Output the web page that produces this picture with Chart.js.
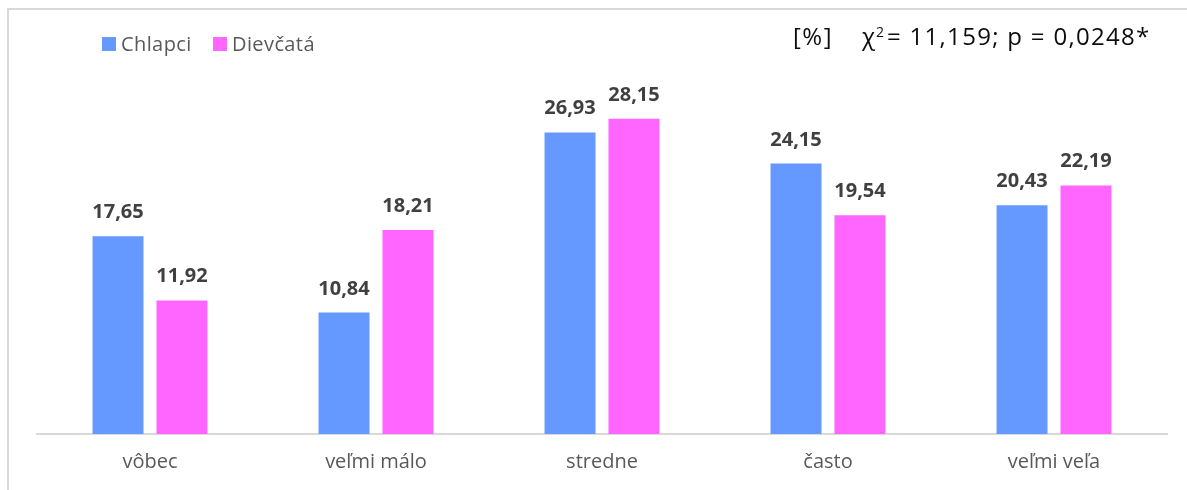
<!DOCTYPE html>
<html>
<head>
<meta charset="utf-8">
<script src="https://cdn.jsdelivr.net/npm/chart.js@4.4.1/dist/chart.umd.min.js"></script>
<style>
  html, body { margin: 0; padding: 0; background: #fff; }
  #wrap { position: relative; width: 1187px; height: 490px; }
</style>
</head>
<body>
<div id="wrap"><canvas id="chart" width="1187" height="490"></canvas></div>
<script>
// data
const categories = ['vôbec', 'veľmi málo', 'stredne', 'často', 'veľmi veľa'];
const chlapci = [17.65, 10.84, 26.93, 24.15, 20.43];
const dievcata = [11.92, 18.21, 28.15, 19.54, 22.19];
const seriesNames = ['Chlapci', 'Dievčatá'];
const seriesColors = ['#6699ff', '#ff66ff'];

const fontFamily = '"Open Sans", Lato, sans-serif';

// frame around the whole chart
const framePlugin = {
    id: 'frame',
    beforeDraw(chart) {
        const ctx = chart.ctx;
        ctx.save();
        ctx.strokeStyle = '#d9d9d9';
        ctx.lineWidth = 2;
        ctx.strokeRect(8, 9, 1400, 700);
        ctx.restore();
    }
};

// legend + the stats text at the top
const headerPlugin = {
    id: 'header',
    afterDraw(chart) {
        const ctx = chart.ctx;
        ctx.save();
        ctx.textBaseline = 'alphabetic';
        ctx.font = '20px ' + fontFamily;
        ctx.letterSpacing = '0.4px';
        let x = 102;
        seriesNames.forEach(function (name, i) {
            ctx.fillStyle = seriesColors[i];
            ctx.fillRect(x, 37, 14, 14);
            ctx.fillStyle = '#595959';
            ctx.fillText(name, x + 19, 51);
            x += 111;
        });

        ctx.fillStyle = '#0d0d0d';
        ctx.font = '24px ' + fontFamily;
        ctx.letterSpacing = '1.5px';
        ctx.fillText('[%]', 793, 45);
        ctx.fillText('χ', 862, 45);
        ctx.font = '14px ' + fontFamily;
        ctx.letterSpacing = '0px';
        ctx.fillText('2', 876, 37);
        ctx.font = '24px ' + fontFamily;
        ctx.letterSpacing = '1.3px';
        ctx.fillText('= 11,159; p = 0,0248*', 887, 45);
        ctx.restore();
    }
};

// value labels above bars
const valueLabels = {
    id: 'valueLabels',
    afterDatasetsDraw(chart) {
        const ctx = chart.ctx;
        ctx.save();
        ctx.font = 'bold 20px ' + fontFamily;
        ctx.fillStyle = '#404040';
        ctx.textAlign = 'center';
        ctx.textBaseline = 'alphabetic';
        chart.data.datasets.forEach(function (ds, i) {
            chart.getDatasetMeta(i).data.forEach(function (bar, j) {
                const txt = ds.data[j].toFixed(2).replace('.', ',');
                ctx.fillText(txt, bar.x, bar.y - 18);
            });
        });
        ctx.restore();
    }
};

const ctx = document.getElementById('chart').getContext('2d');
const chart = new Chart(ctx, {
    type: 'bar',
    data: {
        labels: categories,
        datasets: [{
            label: seriesNames[0],
            data: chlapci,
            backgroundColor: seriesColors[0]
        }, {
            label: seriesNames[1],
            data: dievcata,
            backgroundColor: seriesColors[1]
        }]
    },
    options: {
        responsive: false,
        animation: false,
        datasets: {
            bar: {
                categoryPercentage: 0.566,
                barPercentage: 0.797
            }
        },
        layout: {
            padding: { left: 37, right: 20, top: 98, bottom: 0 }
        },
        plugins: {
            legend: { display: false },
            tooltip: { enabled: false }
        },
        scales: {
            x: {
                grid: { display: false, drawTicks: false },
                border: { display: true, color: '#d9d9d9', width: 2 },
                ticks: {
                    color: '#595959',
                    padding: 20,
                    font: { family: fontFamily, size: 20, lineHeight: 0.8 }
                }
            },
            y: {
                display: false,
                min: 0,
                max: 30
            }
        }
    },
    plugins: [framePlugin, headerPlugin, valueLabels]
});
</script>
</body>
</html>
